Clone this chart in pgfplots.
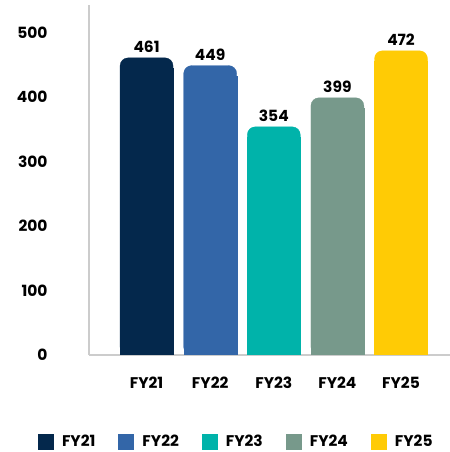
\documentclass[border=0pt]{standalone}
\usepackage{pgfplots}
\pgfplotsset{compat=1.18}
\usepackage{fontspec}
\setmainfont{Poppins}
\definecolor{c1}{HTML}{04284C}
\definecolor{c2}{HTML}{3366A8}
\definecolor{c3}{HTML}{00B3AA}
\definecolor{c4}{HTML}{77998B}
\definecolor{c5}{HTML}{FFCB05}
\newcommand{\lbl}{\fontsize{15.5}{18}\selectfont\bfseries}
\begin{document}
\begin{tikzpicture}
\useasboundingbox (0,0) rectangle (450bp,452bp);
\begin{axis}[
  at={(89bp,97bp)}, anchor=south west, scale only axis,
  width=361bp, height=350bp,
  ymin=0, ymax=543, xmin=-0.905, xmax=4.77,
  axis x line*=bottom, axis y line*=left,
  axis line style={draw=black!20, line width=1.6pt, -},
  ytick={0,100,...,500}, xtick={0,...,4},
  xticklabels={FY21,FY22,FY23,FY24,FY25},
  major tick length=0pt,
  /pgf/number format/assume math mode=true,
  tick label style={font=\lbl},
  yticklabel style={xshift=-38bp},
  xticklabel style={yshift=-18bp},
  ybar, bar width=53bp, bar shift=0pt,
  legend image code/.code={\fill[#1, sharp corners, draw=none] (0bp,-8bp) rectangle (16bp,8bp); \path[draw=none, fill=none] (16bp,0bp) rectangle (22bp,0.1bp);},
  legend style={at={(0.408,-0.248)}, anchor=center, draw=none,
    legend columns=5, font=\lbl,
    /tikz/every even column/.append style={column sep=21bp}},
  legend cell align=left,
  every node near coord/.append style={font=\lbl, black, yshift=2bp},
]
\addplot[fill=c1, draw=c1, line width=0.3bp, rounded corners=8bp, nodes near coords] coordinates {(0,461)};
\addlegendentry{FY21}
\addplot[fill=c2, draw=c2, line width=0.3bp, rounded corners=8bp, nodes near coords] coordinates {(1,449)};
\addlegendentry{FY22}
\addplot[fill=c3, draw=c3, line width=0.3bp, rounded corners=8bp, nodes near coords] coordinates {(2,354)};
\addlegendentry{FY23}
\addplot[fill=c4, draw=c4, line width=0.3bp, rounded corners=8bp, nodes near coords] coordinates {(3,399)};
\addlegendentry{FY24}
\addplot[fill=c5, draw=c5, line width=0.3bp, rounded corners=8bp, nodes near coords] coordinates {(4,472)};
\addlegendentry{FY25}
\addplot[fill=c1, draw=c1, line width=0.3bp, forget plot, y filter/.expression={y-16}] coordinates {(0,461)};
\addplot[fill=c2, draw=c2, line width=0.3bp, forget plot, y filter/.expression={y-16}] coordinates {(1,449)};
\addplot[fill=c3, draw=c3, line width=0.3bp, forget plot, y filter/.expression={y-16}] coordinates {(2,354)};
\addplot[fill=c4, draw=c4, line width=0.3bp, forget plot, y filter/.expression={y-16}] coordinates {(3,399)};
\addplot[fill=c5, draw=c5, line width=0.3bp, forget plot, y filter/.expression={y-16}] coordinates {(4,472)};
\end{axis}
\end{tikzpicture}
\end{document}
